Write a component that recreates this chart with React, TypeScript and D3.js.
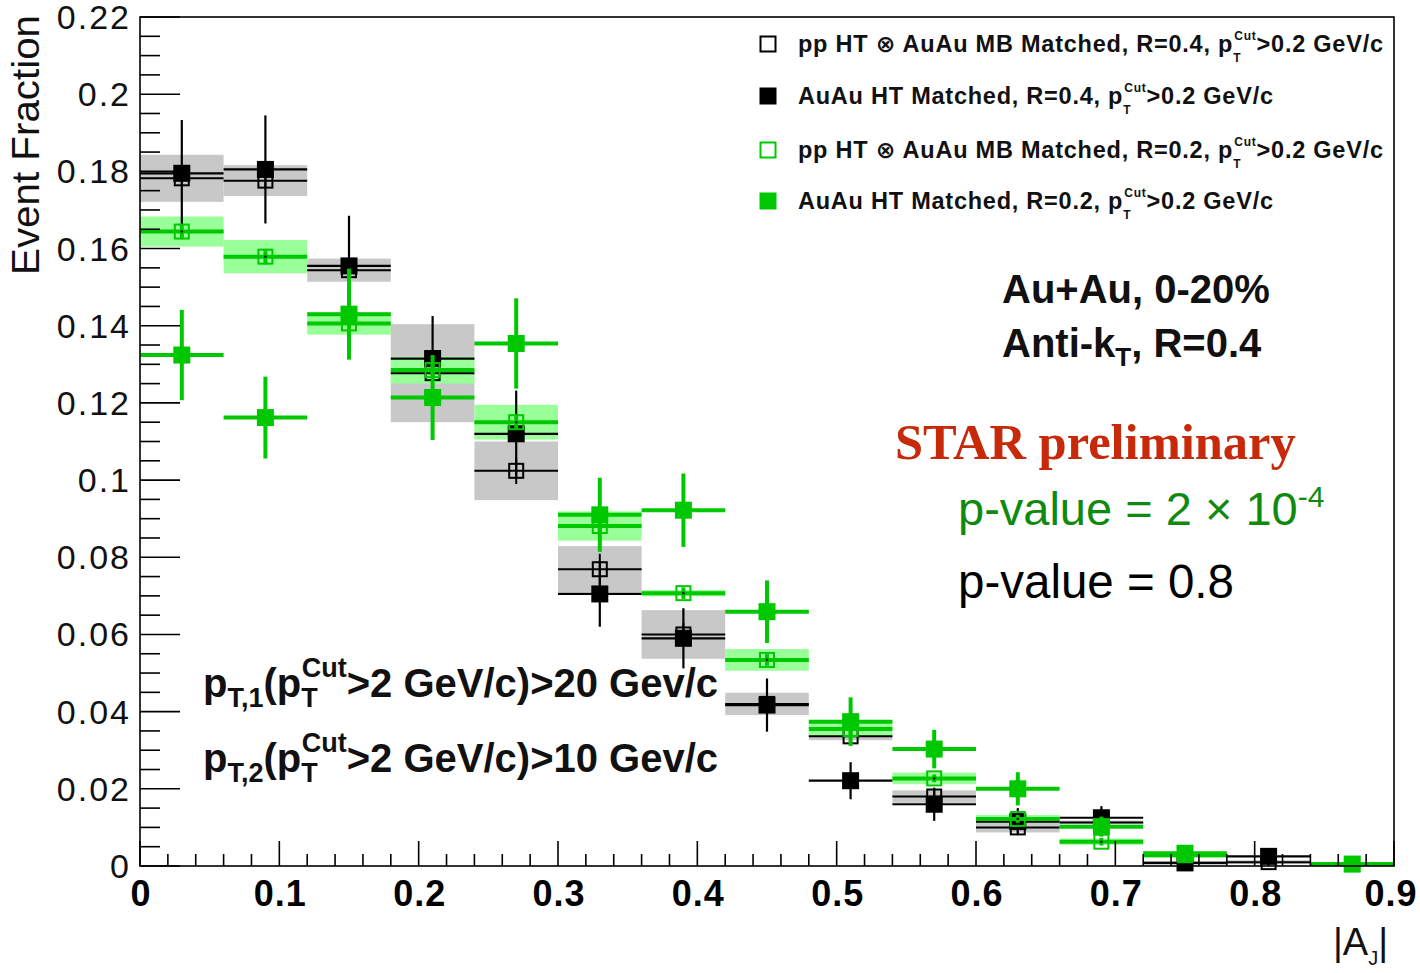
import React from "react";
import * as d3 from "d3";

// Bin edges in |A_J|
const binEdges = [0, 0.06, 0.12, 0.18, 0.24, 0.3, 0.36, 0.42, 0.48, 0.54, 0.6, 0.66, 0.72, 0.78, 0.84, 0.9];

// pp HT ⊗ AuAu MB Matched, R=0.4 (open black) — value, stat, syst
const ppR04 = [0.1782, 0.1776, 0.1544, 0.1277, 0.1024, 0.0769, 0.06, 0.042, 0.0336, 0.018, 0.01, 0.0113, 0.0008, 0.001, null];
const ppR04Stat = [0.002, 0.002, 0.002, 0.0025, 0.0034, 0.004, 0.003, 0.003, 0.002, 0.002, 0.0015, 0.0015, 0.001, 0.001, null];
const ppR04Sys = [0.0061, 0.004, 0.003, 0.0127, 0.0076, 0.006, 0.0063, 0.0029, 0.001, 0.0016, 0.0013, 0.0005, 0.0005, 0.0005, null];

// AuAu HT Matched, R=0.4 (filled black)
const auR04 = [0.1795, 0.1805, 0.1555, 0.1315, 0.112, 0.0705, 0.059, 0.0417, 0.0221, 0.016, 0.0115, 0.0125, 0.0008, 0.0025, null];
const auR04Stat = [0.0138, 0.014, 0.013, 0.011, 0.0112, 0.0085, 0.0078, 0.0069, 0.0048, 0.0043, 0.0035, 0.003, 0.001, 0.001, null];

// pp HT ⊗ AuAu MB Matched, R=0.2 (open green)
const ppR02 = [0.1644, 0.1579, 0.1406, 0.1285, 0.115, 0.0881, 0.0707, 0.0534, 0.0355, 0.0227, 0.0122, 0.0063, 0.0028, null, 0.0005];
const ppR02Stat = [0.002, 0.002, 0.002, 0.002, 0.002, 0.002, 0.0015, 0.0015, 0.0015, 0.001, 0.001, 0.001, 0.0008, null, 0.0003];
const ppR02Sys = [0.0039, 0.0043, 0.0029, 0.0035, 0.0045, 0.0038, 0.0008, 0.0028, 0.002, 0.0015, 0.001, 0.0008, 0.0006, null, 0.0002];

// AuAu HT Matched, R=0.2 (filled green)
const auR02 = [0.1324, 0.1162, 0.143, 0.1214, 0.1354, 0.091, 0.0922, 0.0659, 0.0374, 0.0303, 0.02, 0.0102, 0.0033, null, 0.0005];
const auR02Stat = [0.0117, 0.0106, 0.0118, 0.011, 0.0117, 0.0096, 0.0095, 0.0081, 0.0063, 0.005, 0.0043, 0.0026, 0.0012, null, 0.0003];

const xTickLabels = ["0", "0.1", "0.2", "0.3", "0.4", "0.5", "0.6", "0.7", "0.8", "0.9"];
const yTickLabels = ["0", "0.02", "0.04", "0.06", "0.08", "0.1", "0.12", "0.14", "0.16", "0.18", "0.2", "0.22"];

const legendLabels = [
  "pp HT \u2297 AuAu MB Matched, R=0.4, ",
  "AuAu HT Matched, R=0.4, ",
  "pp HT \u2297 AuAu MB Matched, R=0.2, ",
  "AuAu HT Matched, R=0.2, ",
];
const legendWidths = [585, 475, 585, 475];

const GREEN = "#00c800";
const GREEN_BOX = "#99ff99";
const GRAY_BOX = "#c8c8c8";
const SANS = "'Liberation Sans', Arial, Helvetica, 'DejaVu Sans', sans-serif";
const SERIF = "'Liberation Serif', 'DejaVu Serif', serif";

const W = 1420;
const H = 973;
const frame = { left: 140, right: 1394, top: 17, bottom: 866 };

const x = d3.scaleLinear().domain([0, 0.9]).range([frame.left, frame.right]);
const y = d3.scaleLinear().domain([0, 0.22]).range([frame.bottom, frame.top]);

type Series = {
  values: (number | null)[];
  stat: (number | null)[];
  sys?: (number | null)[];
  color: string;
  boxColor?: string;
  filled: boolean;
  lineWidth: number;
  marker: number;
};

const series: Series[] = [
  { values: ppR04, stat: ppR04Stat, sys: ppR04Sys, color: "#000", boxColor: GRAY_BOX, filled: false, lineWidth: 2, marker: 16 },
  { values: auR04, stat: auR04Stat, color: "#000", filled: true, lineWidth: 2.2, marker: 17 },
  { values: ppR02, stat: ppR02Stat, sys: ppR02Sys, color: GREEN, boxColor: GREEN_BOX, filled: false, lineWidth: 4, marker: 16 },
  { values: auR02, stat: auR02Stat, color: GREEN, filled: true, lineWidth: 4, marker: 17 },
];

function SysBoxes({ s }: { s: Series }) {
  if (!s.sys) return null;
  return (
    <g>
      {s.values.map((v, i) => {
        const e = s.sys![i];
        if (v == null || e == null) return null;
        return (
          <rect
            key={i}
            x={x(binEdges[i])}
            width={x(binEdges[i + 1]) - x(binEdges[i])}
            y={y(v + e)}
            height={y(v - e) - y(v + e)}
            fill={s.boxColor}
          />
        );
      })}
    </g>
  );
}

function Points({ s }: { s: Series }) {
  return (
    <g>
      {s.values.map((v, i) => {
        const e = s.stat[i];
        if (v == null || e == null) return null;
        const cx = x((binEdges[i] + binEdges[i + 1]) / 2);
        const cy = y(v);
        const m = s.marker;
        return (
          <g key={i}>
            <line x1={x(binEdges[i])} x2={x(binEdges[i + 1])} y1={cy} y2={cy} stroke={s.color} strokeWidth={s.lineWidth} />
            <line x1={cx} x2={cx} y1={y(v + e)} y2={y(v - e)} stroke={s.color} strokeWidth={s.lineWidth} />
            {s.filled ? (
              <rect x={cx - m / 2} y={cy - m / 2} width={m} height={m} fill={s.color} />
            ) : (
              <g>
                <rect x={cx - m / 2 + 1} y={cy - m / 2 + 1} width={m - 2} height={m - 2} fill="none" stroke={s.color} strokeWidth={2} />
                <circle cx={cx} cy={cy} r={1.3} fill="#222" />
              </g>
            )}
          </g>
        );
      })}
    </g>
  );
}

function Axes() {
  const yMajor = yTickLabels.map((_, i) => i * 0.02);
  const yMinor = d3.range(0, 0.2201, 0.005).filter((v) => Math.abs(v / 0.02 - Math.round(v / 0.02)) > 1e-6);
  const xMajor = xTickLabels.map((_, i) => i * 0.1);
  const xMinor = d3.range(0, 0.9001, 0.02).filter((v) => Math.abs(v / 0.1 - Math.round(v / 0.1)) > 1e-6);
  return (
    <g>
      <rect
        x={frame.left}
        y={frame.top}
        width={frame.right - frame.left}
        height={frame.bottom - frame.top}
        fill="none"
        stroke="#000"
        strokeWidth={1.6}
      />
      {yMajor.map((v, i) => (
        <g key={"ym" + i}>
          <line x1={frame.left} x2={frame.left + 40} y1={y(v)} y2={y(v)} stroke="#000" strokeWidth={1.6} />
          <text
            x={131}
            y={y(v) + 12}
            textAnchor="end"
            fontFamily={SANS}
            fontSize={34}
            letterSpacing={2}
            fill="#111"
          >
            {yTickLabels[i]}
          </text>
        </g>
      ))}
      {yMinor.map((v, i) => (
        <line key={"yn" + i} x1={frame.left} x2={frame.left + 20} y1={y(v)} y2={y(v)} stroke="#000" strokeWidth={1.6} />
      ))}
      {xMajor.map((v, i) => (
        <g key={"xm" + i}>
          <line x1={x(v)} x2={x(v)} y1={frame.bottom} y2={frame.bottom - 25} stroke="#000" strokeWidth={1.6} />
          <text
            x={i === xMajor.length - 1 ? x(v) - 3 : x(v) + 1}
            y={906}
            textAnchor="middle"
            fontFamily={SANS}
            fontWeight="bold"
            fontSize={36}
            letterSpacing={1}
            fill="#000"
          >
            {xTickLabels[i]}
          </text>
        </g>
      ))}
      {xMinor.map((v, i) => (
        <line key={"xn" + i} x1={x(v)} x2={x(v)} y1={frame.bottom} y2={frame.bottom - 12} stroke="#000" strokeWidth={1.6} />
      ))}
      <text
        transform="translate(39,15) rotate(-90)"
        textAnchor="end"
        fontFamily={SANS}
        fontSize={38}
        textLength={260}
        lengthAdjust="spacingAndGlyphs"
        fill="#111"
      >
        Event Fraction
      </text>
      <text x={1333} y={955} fontFamily={SANS} fontSize={38} fill="#111">
        |A
        <tspan fontSize={20} dy={10}>J</tspan>
        <tspan dy={-10}>|</tspan>
      </text>
    </g>
  );
}

function LegendMarker({ s, cx, cy }: { s: Series; cx: number; cy: number }) {
  const m = 17;
  return s.filled ? (
    <rect x={cx - m / 2} y={cy - m / 2} width={m} height={m} fill={s.color} />
  ) : (
    <rect x={cx - m / 2 + 1} y={cy - m / 2 + 1} width={m - 2} height={m - 2} fill="#fff" stroke={s.color} strokeWidth={2} />
  );
}

function Legend() {
  const rows = [44, 96, 150, 201];
  return (
    <g>
      {series.map((s, i) => (
        <g key={i}>
          <LegendMarker s={s} cx={768} cy={rows[i]} />
          <text
            x={798}
            y={rows[i] + 8}
            fontFamily={SANS}
            fontWeight="bold"
            fontSize={23.5}
            textLength={legendWidths[i]}
            lengthAdjust="spacing"
            fill="#111"
          >
            {legendLabels[i]}p
            <tspan fontSize={12} dy={10}>T</tspan>
            <tspan fontSize={12} dx={-7} dy={-22}>Cut</tspan>
            <tspan fontSize={23.5} dy={12}>&gt;0.2 GeV/c</tspan>
          </text>
        </g>
      ))}
    </g>
  );
}

function Annotations() {
  return (
    <g>
      <text x={1002} y={303} fontFamily={SANS} fontWeight="bold" fontSize={40} fill="#111">
        Au+Au, 0-20%
      </text>
      <text x={1002} y={357} fontFamily={SANS} fontWeight="bold" fontSize={40} fill="#111">
        Anti-k
        <tspan fontSize={26} dy={9}>T</tspan>
        <tspan dy={-9}>, R=0.4</tspan>
      </text>
      <text x={895} y={459} fontFamily={SERIF} fontWeight="bold" fontSize={50.5} fill="#c62a0a">
        STAR preliminary
      </text>
      <text x={958} y={525} fontFamily={SANS} fontSize={47} fill="#0f8a0f">
        p-value = 2 × 10
        <tspan fontSize={30} dy={-18}>-4</tspan>
      </text>
      <text x={958} y={598} fontFamily={SANS} fontSize={47.5} fill="#000">
        p-value = 0.8
      </text>
      <text x={203} y={697} fontFamily={SANS} fontWeight="bold" fontSize={40} fill="#111">
        p<tspan fontSize={27} dy={10}>T,1</tspan>
        <tspan dy={-10}>(p</tspan>
        <tspan fontSize={27} dy={10}>T</tspan>
        <tspan fontSize={27} dx={-16} dy={-30}>Cut</tspan>
        <tspan dy={20}>&gt;2 GeV/c)&gt;20 Gev/c</tspan>
      </text>
      <text x={203} y={772} fontFamily={SANS} fontWeight="bold" fontSize={40} fill="#111">
        p<tspan fontSize={27} dy={10}>T,2</tspan>
        <tspan dy={-10}>(p</tspan>
        <tspan fontSize={27} dy={10}>T</tspan>
        <tspan fontSize={27} dx={-16} dy={-30}>Cut</tspan>
        <tspan dy={20}>&gt;2 GeV/c)&gt;10 Gev/c</tspan>
      </text>
    </g>
  );
}

export default function App() {
  return (
    <svg
      width={W}
      height={H}
      viewBox={`0 0 ${W} ${H}`}
      style={{ position: "absolute", left: 0, top: 0, background: "#fff" }}
    >
      <rect width={W} height={H} fill="#fff" />
      {series.map((s, i) => (
        <SysBoxes key={"b" + i} s={s} />
      ))}
      {series.map((s, i) => (
        <Points key={"p" + i} s={s} />
      ))}
      <Axes />
      <Legend />
      <Annotations />
    </svg>
  );
}
